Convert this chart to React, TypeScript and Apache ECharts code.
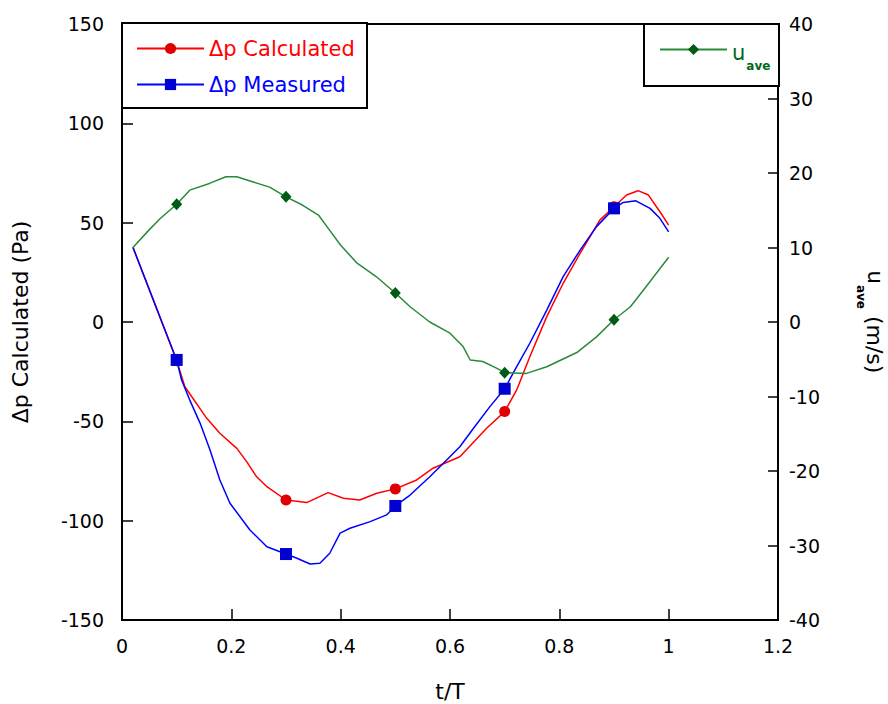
import React, { useEffect, useRef } from "react";
import * as echarts from "echarts";

const FONT = '"DejaVu Sans", sans-serif';

// Phase positions at which the curves carry a marker symbol
const markerT = [0.1, 0.3, 0.5, 0.7, 0.9];

// Δp Calculated (Pa)
const calcT = [0.02, 0.1, 0.115, 0.155, 0.179, 0.21, 0.228, 0.246, 0.265, 0.3, 0.338, 0.377, 0.405, 0.435, 0.466, 0.5, 0.539, 0.569, 0.618, 0.667, 0.7, 0.722, 0.746, 0.777, 0.807, 0.838, 0.874, 0.9, 0.923, 0.944, 0.963, 0.984, 1.0];
const calcDp = [37.6, -19.5, -32.6, -48.5, -56.0, -63.6, -70.3, -77.8, -82.9, -89.6, -90.9, -85.9, -88.7, -89.6, -86.2, -84.0, -79.5, -73.6, -67.8, -53.5, -45.1, -34.2, -17.5, 2.7, 19.5, 34.6, 51.3, 58.0, 63.9, 66.1, 63.9, 55.5, 48.8];

// Δp Measured (Pa)
const measT = [0.02, 0.1, 0.109, 0.124, 0.143, 0.161, 0.179, 0.1975, 0.234, 0.265, 0.3, 0.32, 0.344, 0.362, 0.38, 0.399, 0.417, 0.454, 0.484, 0.5, 0.527, 0.563, 0.588, 0.618, 0.643, 0.673, 0.7, 0.722, 0.746, 0.777, 0.807, 0.838, 0.868, 0.9, 0.917, 0.94, 0.966, 0.984, 1.0];
const measDp = [37.6, -19.1, -29.2, -39.3, -51.0, -64.4, -79.5, -91.2, -104.7, -113.1, -116.8, -118.9, -121.8, -121.4, -116.4, -106.3, -103.8, -100.5, -97.1, -92.6, -87.1, -77.9, -71.1, -62.8, -53.5, -42.6, -33.6, -22.5, -10.7, 6.0, 22.8, 36.2, 48.0, 57.2, 60.2, 61.0, 57.2, 52.2, 45.4];

// u_ave (m/s)
const uT = [0.02, 0.05, 0.07, 0.1, 0.124, 0.16, 0.19, 0.21, 0.24, 0.27, 0.3, 0.33, 0.36, 0.38, 0.4, 0.43, 0.465, 0.5, 0.527, 0.563, 0.6, 0.624, 0.637, 0.66, 0.685, 0.7, 0.74, 0.777, 0.832, 0.868, 0.9, 0.93, 0.954, 1.0];
const uAve = [10.0, 12.4, 13.9, 15.8, 17.7, 18.6, 19.5, 19.5, 18.8, 18.1, 16.8, 15.7, 14.3, 12.3, 10.3, 7.9, 6.1, 3.9, 2.05, 0.0, -1.5, -3.3, -5.1, -5.3, -6.2, -6.8, -6.9, -6.0, -4.1, -2.0, 0.3, 2.05, 4.3, 8.7];

// Axis ranges: [min, max, interval]
const xRange = [0, 1.2, 0.2];
const dpRange = [-150, 150, 50];
const uRange = [-40, 40, 10];

const buildData = (ts: number[], vs: number[]) =>
  ts.map((t, i) =>
    markerT.includes(t) ? { value: [t, vs[i]] } : { value: [t, vs[i]], symbol: "none" }
  );

// "u" with a lowered "ave" subscript
const subRich = {
  u: { fontFamily: FONT, fontSize: 21, lineHeight: 21, padding: [3, 0, 0, 0], verticalAlign: "top" },
  s: { fontFamily: FONT, fontSize: 12, fontWeight: "bold", lineHeight: 12, padding: [21, 0, 0, 1], verticalAlign: "top" },
  n: { fontFamily: FONT, fontSize: 22, lineHeight: 22, padding: [3, 0, 0, 0], verticalAlign: "top" },
};

export default function App() {
  const ref = useRef<HTMLDivElement>(null);

  useEffect(() => {
    if (!ref.current) return;
    const chart = echarts.init(ref.current, undefined, { renderer: "svg" });

    const axisCommon = {
      axisLine: { show: true, onZero: false, lineStyle: { color: "#000", width: 2 } },
      axisTick: { show: true, inside: true, length: 11, lineStyle: { color: "#000", width: 1.5 } },
      splitLine: { show: false },
      axisLabel: { color: "#000", fontFamily: FONT, fontSize: 19 },
    };

    chart.setOption({
      animation: false,
      backgroundColor: "#fff",
      textStyle: { fontFamily: FONT },
      grid: {
        left: 122,
        right: 110,
        top: 24,
        bottom: 84,
        outerBoundsMode: "none",
        containLabel: false,
        show: true,
        borderColor: "#000",
        borderWidth: 2,
        backgroundColor: "transparent",
      },
      xAxis: {
        type: "value",
        min: xRange[0],
        max: xRange[1],
        interval: xRange[2],
        name: "t/T",
        nameLocation: "middle",
        nameGap: 60,
        nameTextStyle: { color: "#000", fontFamily: FONT, fontSize: 22 },
        ...axisCommon,
        axisLabel: { ...axisCommon.axisLabel, margin: 16 },
      },
      yAxis: [
        {
          type: "value",
          position: "left",
          min: dpRange[0],
          max: dpRange[1],
          interval: dpRange[2],
          name: "Δp Calculated (Pa)",
          nameLocation: "middle",
          nameRotate: 90,
          nameGap: 91,
          nameTextStyle: { color: "#000", fontFamily: FONT, fontSize: 22 },
          ...axisCommon,
          axisLabel: { ...axisCommon.axisLabel, margin: 18 },
        },
        {
          type: "value",
          position: "right",
          min: uRange[0],
          max: uRange[1],
          interval: uRange[2],
          name: "{u|u}{s|ave}{n| (m/s)}",
          nameLocation: "middle",
          nameRotate: -90,
          nameGap: 88,
          nameTextStyle: { color: "#000", fontFamily: FONT, fontSize: 22, rich: subRich },
          ...axisCommon,
          axisTick: { ...axisCommon.axisTick, length: 10 },
          axisLabel: { ...axisCommon.axisLabel, margin: 11 },
        },
      ],
      graphic: [
        {
          type: "rect",
          z: 3,
          shape: { x: 122, y: 23, width: 245, height: 85 },
          style: { fill: "#fff", stroke: "#000", lineWidth: 2 },
        },
        {
          type: "rect",
          z: 3,
          shape: { x: 644, y: 24, width: 135, height: 62 },
          style: { fill: "#fff", stroke: "#000", lineWidth: 2 },
        },
      ],
      legend: [
        {
          orient: "vertical",
          left: 122,
          top: 23,
          padding: [15, 15, 10, 14],
          itemGap: 15,
          itemWidth: 67,
          itemHeight: 14,
          textStyle: { fontFamily: FONT, fontSize: 21 },
          data: [
            { name: "Δp Calculated", textStyle: { color: "#ff0000" } },
            { name: "Δp Measured", textStyle: { color: "#0000ff" } },
          ],
        },
        {
          orient: "vertical",
          left: 644,
          top: 24,
          padding: [15, 10, 2, 15],
          itemWidth: 67,
          itemHeight: 14,
          formatter: () => "{u|u}{s|ave}",
          textStyle: { color: "#006a1a", fontFamily: FONT, fontSize: 21, rich: subRich },
          data: [{ name: "u_ave" }],
        },
      ],
      series: [
        {
          name: "Δp Calculated",
          type: "line",
          yAxisIndex: 0,
          data: buildData(calcT, calcDp),
          symbol: "circle",
          symbolSize: 11,
          showSymbol: true,
          lineStyle: { color: "#ff0000", width: 1.5 },
          itemStyle: { color: "#e00000" },
          z: 3,
        },
        {
          name: "Δp Measured",
          type: "line",
          yAxisIndex: 0,
          data: buildData(measT, measDp),
          symbol: "rect",
          symbolSize: 12,
          showSymbol: true,
          lineStyle: { color: "#0000ff", width: 1.5 },
          itemStyle: { color: "#0000d0" },
          z: 4,
        },
        {
          name: "u_ave",
          type: "line",
          yAxisIndex: 1,
          data: buildData(uT, uAve),
          symbol: "diamond",
          symbolSize: [11, 12],
          showSymbol: true,
          lineStyle: { color: "#2a8a3c", width: 1.5 },
          itemStyle: { color: "#005c14" },
          z: 5,
        },
      ],
    });

    return () => chart.dispose();
  }, []);

  return (
    <div
      ref={ref}
      style={{ position: "absolute", left: 0, top: 0, width: 888, height: 704 }}
    />
  );
}
